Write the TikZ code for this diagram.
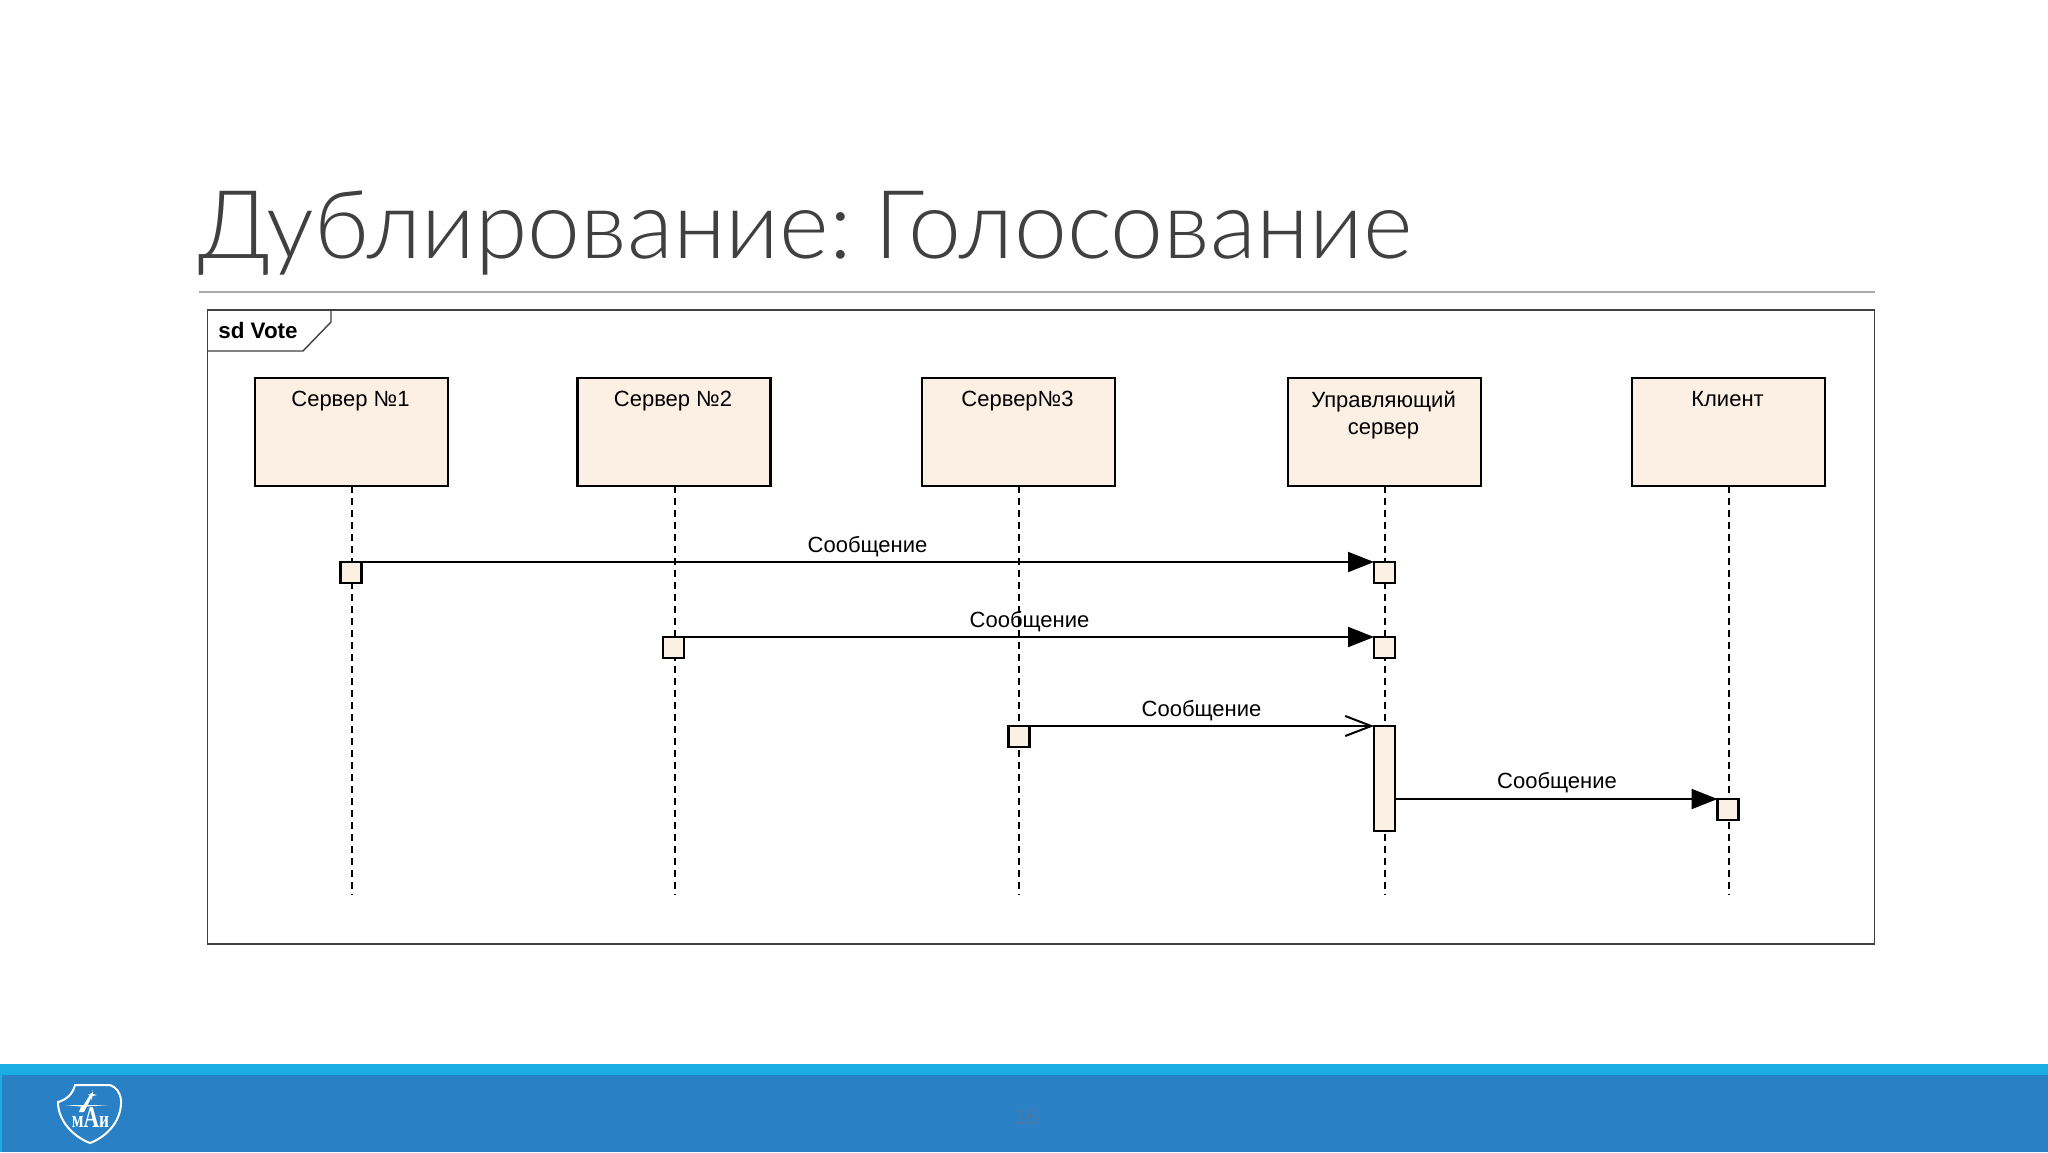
\documentclass[tikz,border=0pt]{standalone}
\usepackage{fontspec}
\setmainfont{Liberation Sans}
\newfontfamily\titlefont{Lato Light}
\newfontfamily\logofont{Liberation Serif}
\usetikzlibrary{arrows.meta,
                calc,
                positioning}
\definecolor{boxfill}{HTML}{FCEFE3}
\definecolor{actfill}{HTML}{FAF0E4}
\definecolor{bandlight}{HTML}{1AADE3}
\definecolor{banddark}{HTML}{2A80C4}
\definecolor{titlegray}{HTML}{404040}
\definecolor{rulegray}{HTML}{ABABAB}
\definecolor{pagegray}{HTML}{4A78A8}
\tikzset{
	lifebox/.style={draw,line width=1.2pt,fill=boxfill,minimum width=96.5pt,minimum height=54pt,inner sep=0pt,outer sep=0pt},
	boxtext/.style={font=\fontsize{11}{13.8}\selectfont,align=center,inner sep=0pt},
	msgtext/.style={font=\fontsize{11}{13}\selectfont,inner sep=0pt},
	actbox/.style={draw,line width=1.2pt,fill=actfill,minimum width=10.5pt,minimum height=10.5pt,inner sep=0pt,outer sep=0pt},
	lifeline/.style={line width=1pt,dash pattern=on 3.5pt off 2.5pt},
	msg/.style={line width=1pt,-{Triangle[length=13pt,width=10pt]}},
	msgopen/.style={line width=1pt,-{Straight Barb[length=13pt,width=10pt]}}
}
\begin{document}
\begin{tikzpicture}[x=0.5pt,y=-0.5pt]
	\useasboundingbox (0,0) rectangle (2048,1152);
	\fill[white] (0,0) rectangle (2048,1152);
	\node[anchor=base west,inner sep=0pt,text=titlegray,font=\titlefont\fontsize{47.5}{57}\selectfont] (title) at (198,258) {Дублирование:\kern-6pt{} Голосование};
	\draw[rulegray,line width=.8pt] (199,292) -- (1875,292);
	% frame
	\draw[titlegray,line width=.7pt] (207.5,310) rectangle (1874.5,944);
	\draw[titlegray,line width=.7pt] (207.5,351) -- (303,351) -- (331,322) -- (331,310);
	\node[anchor=west,inner sep=0pt,font=\bfseries\fontsize{11.2}{13}\selectfont] (sd) at (218,330) {sd Vote};
	% lifelines and boxes
	\foreach \x/\name [count=\i] in {351.5/{Сервер №1},674/{Сервер №2},1018.5/{Сервер№3},1384.5/{Управляющий\\сервер},1728.5/{Клиент}}{%
		\coordinate (E-\i) at (\x+.5,895);
		\node[lifebox] (S-\i) at (\x,432) {};
		\draw[lifeline] ($(S-\i.south)+(.5,0)$) -- (E-\i);
		\node[boxtext,anchor=north] (T-\i) at ($(S-\i.north)+(-1,12.5)$) {\name};
	}
	% activations
	\node[actbox] (A-1) at (351,572.5) {};
	\node[actbox] (A-2) at (673.5,647.5) {};
	\node[actbox] (A-3) at (1019,736.5) {};
	\node[actbox] (B-1) at (1384.5,572.5) {};
	\node[actbox] (B-2) at (1384.5,647.5) {};
	\node[actbox,minimum height=52.5pt] (B-3) at (1384.5,778.5) {};
	\node[actbox] (C-1) at (1728,809.5) {};
	% messages
	\draw[msg] (A-1.north east) -- (B-1.north west);
	\draw[msg] (A-2.north east) -- (B-2.north west);
	\draw[msgopen] (A-3.north east) -- (B-3.north west);
	\draw[msg] (B-3.east |- C-1.north) -- (C-1.north west);
	\node[msgtext] (L-1) at (867.5,547) {Сообщение};
	\node[msgtext] (L-2) at (1029.5,622) {Сообщение};
	\node[msgtext] (L-3) at (1201.5,711) {Сообщение};
	\node[msgtext] (L-4) at (1557,783) {Сообщение};
	% footer
	\fill[bandlight] (0,1064) rectangle (2048,1075);
	\fill[banddark] (0,1075) rectangle (2048,1152);
	\fill[bandlight] (0,1075) rectangle (1.5,1152);
	\node[text=pagegray,inner sep=0pt,font=\fontsize{11}{13}\selectfont] (page) at (1026,1117) {16};
	% logo
	\draw[white,line width=1pt,fill=banddark] (75,1085) -- (110,1085)
		.. controls (116,1087) and (120,1092) .. (121,1100)
		.. controls (122,1120) and (108,1136) .. (90,1143)
		.. controls (72,1136) and (58,1120) .. (58,1102)
		.. controls (66,1100) and (73,1094) .. (75,1085) -- cycle;
	\fill[white] (65,1105) -- (108,1105) -- (86,1106.5) -- (83,1112) -- (79,1112) -- (81,1106.5) -- cycle;
	\fill[white] (80,1111) -- (91,1093) -- (93,1094) -- (84,1112) -- cycle;
	\fill[white] (88,1094.5) -- (92,1094) -- (92.5,1090) -- (93,1094) -- (97,1095) -- (92.5,1096) -- (91.5,1100) -- (91,1096) -- cycle;
	\node[text=white,inner sep=0pt,anchor=base,xscale=.72,font=\logofont\bfseries\fontsize{12}{14}\selectfont] (logo) at (90.5,1127) {м{\fontsize{15}{14}\selectfont А}и};
\end{tikzpicture}
\end{document}
